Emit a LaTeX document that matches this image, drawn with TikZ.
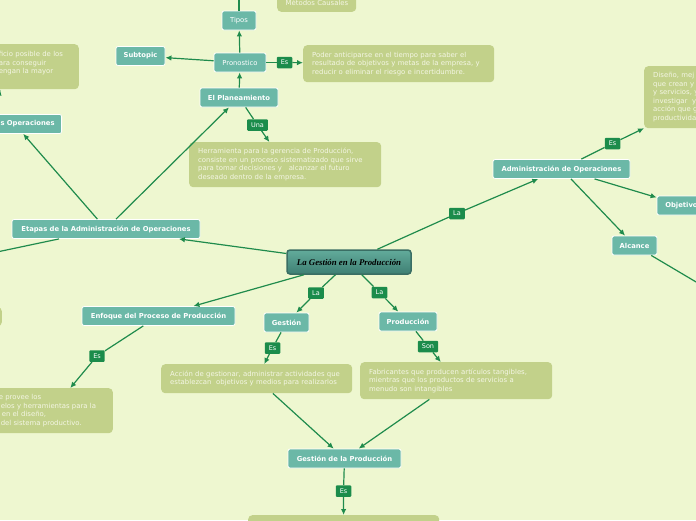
\documentclass[tikz,border=0pt]{standalone}
\usepackage{fontspec}
\setmainfont{DejaVu Sans}
\newfontfamily\centralfont{Liberation Serif}
\usetikzlibrary{arrows.meta}
\definecolor{bgc}{HTML}{EEF7D0}
\definecolor{tealc}{HTML}{6BB8A7}
\definecolor{notec}{HTML}{C2D18A}
\definecolor{notetxt}{HTML}{F4F6E4}
\definecolor{labc}{HTML}{1B8C4B}
\definecolor{linec}{HTML}{1F8B4C}
\definecolor{ctop}{HTML}{62AB9B}
\definecolor{cbot}{HTML}{3E7F73}
\definecolor{cbord}{HTML}{3A6E64}
\tikzset{
  topic/.style={rectangle, rounded corners=2pt, fill=tealc, draw=white, line width=0.8pt,
    text=white, font=\bfseries\fontsize{6.8}{8}\selectfont, inner sep=0pt, minimum height=19pt},
  plaintopic/.style={topic, font=\fontsize{6.8}{8}\selectfont},
  note/.style={rectangle, rounded corners=4pt, fill=notec, text=notetxt,
    font=\fontsize{6.9}{8.5}\selectfont, align=left, inner xsep=9pt, inner ysep=0pt},
  lab/.style={rectangle, rounded corners=1pt, fill=labc, text=white,
    font=\fontsize{6.5}{7}\selectfont, inner xsep=4pt, inner ysep=0pt, minimum height=11.5pt},
  central/.style={rectangle, rounded corners=3pt, top color=ctop, bottom color=cbot,
    draw=cbord, line width=1.5pt, text=black, font=\centralfont\bfseries\itshape\fontsize{8.8}{10}\selectfont,
    minimum width=124pt, minimum height=24pt, inner sep=0pt},
  conn/.style={draw=linec, line width=1.2pt},
  arr/.style={conn, -{Latex[length=6pt,width=5.5pt]}}
}
\begin{document}
\begin{tikzpicture}[x=1pt,y=-1pt]
\useasboundingbox (0,0) rectangle (696,520);
\fill[bgc] (0,0) rectangle (696,520);

% off-screen ends
\coordinate (topoff) at (239,-30);
\coordinate (offL) at (-60,264);
\coordinate (offR) at (740,308);

% central
\node[central] (c) at (349,262) {La Gesti\'on en la Producci\'on};

% topics
\node[plaintopic, minimum width=34pt] (tipos) at (239,20.5) {Tipos};
\node[plaintopic, minimum width=52pt] (pron) at (240,62.5) {Pronostico};
\node[topic, minimum width=49pt] (sub) at (140.5,56) {Subtopic};
\node[topic, minimum width=78pt] (el) at (239,97.5) {El Planeamiento};
\node[topic, minimum width=188pt] (etapas) at (106,229) {Etapas de la Administraci\'on de Operaciones};
\node[topic, text width=80pt, align=right, inner xsep=7pt, anchor=east] (sop) at (62,124) {s Operaciones};
\node[topic, minimum width=153pt] (enf) at (158.5,316) {Enfoque del Proceso de Producci\'on};
\node[topic, minimum width=45pt] (gest) at (286.5,322.5) {Gesti\'on};
\node[topic, minimum width=58pt] (prod) at (408,321.5) {Producci\'on};
\node[topic, minimum width=113pt] (gdlp) at (344.5,458.5) {Gesti\'on de la Producci\'on};
\node[topic, minimum width=137pt] (admin) at (561.5,169) {Administraci\'on de Operaciones};
\node[topic, minimum width=45pt] (alc) at (634.5,245.5) {Alcance};
\node[topic, minimum width=53pt] (obj) at (683.5,205.5) {Objetivos};

% notes
\node[note, anchor=south west, text width=68pt, inner xsep=5.5pt, minimum height=18pt] (metodos) at (277,12) {\hspace*{3pt}M\'etodos Causales};
\node[note, anchor=north west, text width=173pt, minimum height=37pt] (poder) at (303,45)
  {Poder anticiparse en el tiempo para saber el\\resultado de objetivos y metas de la empresa, y\\reducir o eliminar el riesgo e incertidumbre.};
\node[note, anchor=north west, text width=174pt, minimum height=45pt] (herr) at (189,142)
  {Herramienta para la gerencia de Producci\'on,\\consiste en un proceso sistematizado que sirve\\para tomar decisiones y\ \ \ alcanzar el futuro\\deseado dentro de la empresa.};
\node[note, anchor=north east, text width=71pt, minimum height=45pt] (tl) at (79,44)
  {ficio posible de los\\ara conseguir\\engan la mayor\\\mbox{}};
\node[note, anchor=north east, text width=105pt, minimum height=45pt] (enfn) at (113,388)
  {e provee los\\\hspace*{2pt}elos y herramientas para la\\\hspace*{3pt}en el dise\~no,\\\hspace*{2pt}del sistema productivo.};
\node[note, anchor=north west, text width=173pt, minimum height=29pt] (accion) at (161,364)
  {Acci\'on de gestionar, administrar actividades que\\establezcan\ \ objetivos y medios para realizarlos};
\node[note, anchor=north west, text width=174pt, minimum height=37pt] (fab) at (360,362)
  {Fabricantes que producen art\'iculos tangibles,\\mientras que los productos de servicios a\\menudo son intangibles};
\node[note, anchor=north west, text width=173pt, minimum height=40pt] (bottom) at (248,515) {};
\node[note, anchor=north west, text width=110pt, minimum height=62pt] (dis) at (644,66)
  {Dise\~no, mej\\que crean y\\y servicios, y\\investigar\ \ y\\acci\'on que g\\productivida};
\node[note, anchor=north east, minimum width=80pt, minimum height=19pt] (lfrag) at (2,307) {};

% labels
\node[lab] (lEsP) at (284.5,62.5) {Es};
\node[lab] (lUna) at (257.5,125) {Una};
\node[lab] (lLaA) at (457,213.5) {La};
\node[lab] (lEsA) at (612.5,143.5) {Es};
\node[lab] (lLaG) at (316,293) {La};
\node[lab] (lLaP) at (379.5,292.5) {La};
\node[lab] (lEsE) at (97,356) {Es};
\node[lab] (lEsG) at (272.5,348) {Es};
\node[lab] (lSon) at (428,346.5) {Son};
\node[lab] (lEsGP) at (343.5,491) {Es};

% connectors
\draw[arr] (el) -- (pron);
\draw[arr] (pron) -- (tipos);
\draw[conn] (tipos) -- (topoff);
\draw[arr] (pron) -- (sub);
\draw[conn] (pron) -- (lEsP);
\draw[arr] (lEsP) -- (poder);
\draw[conn] (el) -- (lUna);
\draw[arr] (lUna) -- (herr);
\draw[arr] (etapas) -- (el);
\draw[arr] (etapas) -- (sop);
\draw[conn] (etapas) -- (offL);
\draw[arr] ([xshift=-20pt]sop.north) -- ([xshift=-34pt]tl.south);
\draw[arr] (c) -- (etapas);
\draw[arr] (c) -- (enf);
\draw[conn] (c) -- (lLaA);
\draw[arr] (lLaA) -- (admin);
\draw[conn] (c) -- (lLaG);
\draw[arr] (lLaG) -- (gest);
\draw[conn] (c) -- (lLaP);
\draw[arr] (lLaP) -- (prod);
\draw[conn] (enf) -- (lEsE);
\draw[arr] (lEsE) -- (enfn);
\draw[conn] (gest) -- (lEsG);
\draw[arr] (lEsG) -- (accion);
\draw[conn] (prod) -- (lSon);
\draw[arr] (lSon) -- (fab);
\draw[arr] (accion) -- (gdlp);
\draw[arr] (fab) -- (gdlp);
\draw[conn] (gdlp) -- (lEsGP);
\draw[arr] (lEsGP) -- (bottom);
\draw[conn] (admin) -- (lEsA);
\draw[arr] (lEsA) -- (dis);
\draw[arr] (admin) -- (obj);
\draw[arr] (admin) -- (alc);
\draw[conn] (alc) -- (offR);
\end{tikzpicture}
\end{document}
